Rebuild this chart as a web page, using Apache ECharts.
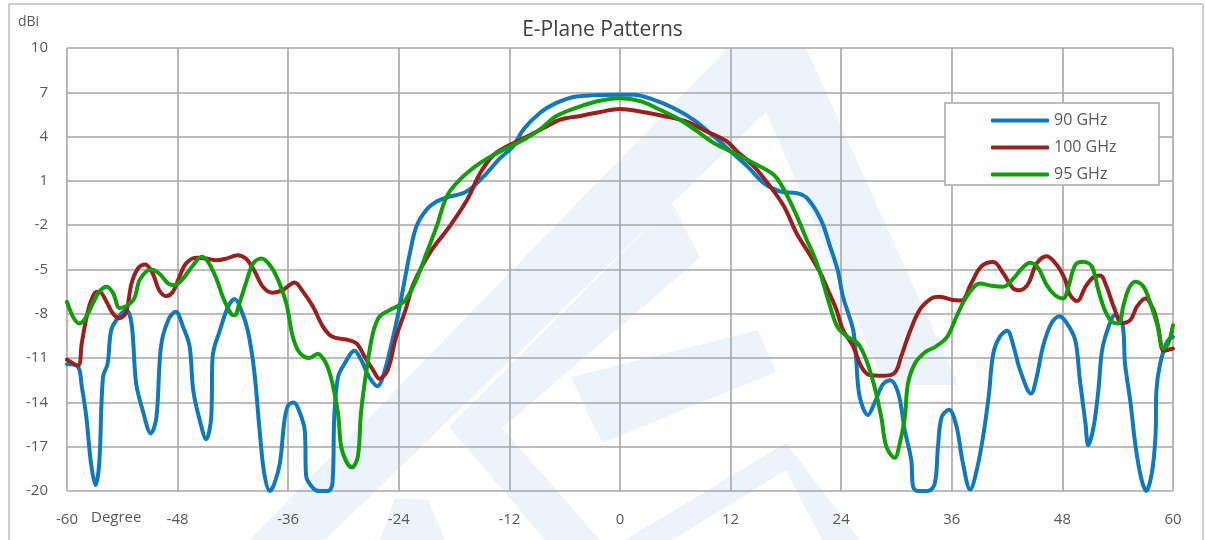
<!DOCTYPE html>
<html>
<head>
<meta charset="utf-8">
<script src="https://cdn.jsdelivr.net/npm/echarts@6/dist/echarts.min.js"></script>
<style>
html,body{margin:0;padding:0;background:#fff;}
#chart{width:1205px;height:540px;}
</style>
</head>
<body>
<div id="chart"></div>
<script>
const chartTitle = 'E-Plane Patterns';
const seriesNames = ['90 GHz', '100 GHz', '95 GHz'];
const xTicks = [-60, -48, -36, -24, -12, 0, 12, 24, 36, 48, 60];
const yTicks = [-20, -17, -14, -11, -8, -5, -2, 1, 4, 7, 10];

const ghz90 = [[-60,-11.4],[-58.8,-11.6],[-58.4,-12.9],[-57.9,-15],[-57.4,-18.1],[-56.9,-19.6],[-56.5,-18.1],[-56.1,-12.3],[-55.6,-11.4],[-55.2,-9.1],[-54.5,-8.3],[-53.6,-7.75],[-53,-8.65],[-52.5,-12.7],[-51.8,-14.5],[-50.9,-16.1],[-50.3,-15],[-49.8,-10.2],[-49,-8.4],[-48.2,-7.86],[-47.4,-8.9],[-46.7,-10.2],[-46.3,-13.2],[-45.6,-15.2],[-44.9,-16.5],[-44.35,-15],[-44.2,-10.9],[-43.4,-9.1],[-42.5,-7.5],[-41.8,-7.0],[-41.1,-7.75],[-40.4,-9.1],[-39.7,-11.8],[-39.1,-15.9],[-38.6,-18.8],[-38.0,-20],[-37.5,-19.5],[-36.9,-18.1],[-36.4,-15.2],[-36.0,-14.2],[-35.4,-14.0],[-34.8,-14.6],[-34.2,-15.9],[-34.05,-19.0],[-33.3,-19.8],[-32.6,-20],[-31.7,-20],[-31.2,-19.5],[-31.0,-15],[-30.6,-12.3],[-29.9,-11.4],[-28.8,-10.5],[-28.1,-11.1],[-27.2,-12.3],[-26.3,-12.9],[-25.6,-12.0],[-24.7,-9.8],[-23.9,-7.5],[-23.3,-5.5],[-22.8,-3.9],[-22.1,-2.1],[-21.0,-0.96],[-19.9,-0.4],[-18.5,-0.06],[-17.0,0.17],[-15.9,0.62],[-14.5,1.5],[-13.0,2.54],[-11.6,3.33],[-10.5,4.47],[-8.7,5.6],[-6.9,6.28],[-5.05,6.68],[-2.9,6.8],[0,6.84],[1.5,6.84],[3.6,6.5],[5.8,5.94],[8.0,5.14],[10.2,4.0],[12.0,3.0],[13.8,2.0],[15.6,0.85],[17.4,0.28],[19.2,0.17],[20.3,-0.17],[21.8,-1.64],[22.8,-3.45],[23.6,-5.0],[24.2,-6.85],[25.3,-9.1],[25.6,-10.9],[26.0,-13.6],[26.9,-14.86],[27.6,-14.07],[28.5,-12.8],[29.3,-12.5],[30.2,-13.4],[30.9,-15.9],[31.6,-17.9],[31.8,-19.7],[32.3,-20],[33.4,-20],[34.15,-19.5],[34.5,-17.0],[34.9,-15.0],[35.7,-14.5],[36.5,-15.6],[37.2,-18.1],[38.0,-19.9],[38.7,-18.6],[39.4,-16.3],[40.0,-13.6],[40.5,-10.7],[41.2,-9.56],[42.0,-9.15],[42.7,-10.2],[43.4,-11.8],[44.6,-13.4],[45.2,-12.3],[45.9,-10.2],[46.8,-8.65],[47.7,-8.16],[48.5,-8.65],[49.4,-9.8],[49.9,-12.5],[50.5,-15.4],[50.8,-16.9],[51.4,-15.6],[51.9,-13.2],[52.3,-10.5],[53.0,-8.9],[53.7,-8.1],[54.5,-8.65],[54.8,-11.4],[55.4,-14.07],[55.9,-16.8],[56.5,-19.0],[57.1,-20],[57.7,-18.8],[58.1,-16.3],[58.2,-13.2],[58.6,-11.4],[59.35,-9.9],[60,-9.56]];

const ghz100 = [[-60,-11.1],[-58.8,-11.5],[-58.4,-10.0],[-57.7,-7.75],[-57.0,-6.6],[-56.5,-6.5],[-55.7,-7.2],[-55.0,-8.0],[-54.3,-8.3],[-53.6,-7.9],[-53.0,-5.95],[-52.3,-4.93],[-51.5,-4.66],[-50.7,-5.27],[-50.0,-6.4],[-49.2,-6.8],[-48.5,-6.5],[-47.8,-5.5],[-47.1,-4.6],[-46.0,-4.2],[-44.9,-4.26],[-43.8,-4.37],[-42.7,-4.26],[-41.5,-4.03],[-40.6,-4.26],[-39.7,-5.05],[-38.75,-6.17],[-37.7,-6.58],[-36.6,-6.4],[-35.3,-5.88],[-34.4,-6.5],[-33.3,-7.53],[-32.2,-8.9],[-31.2,-9.56],[-29.7,-9.74],[-28.6,-10.0],[-27.7,-10.9],[-26.8,-11.8],[-26.1,-12.4],[-25.2,-11.8],[-24.3,-9.6],[-23.2,-7.6],[-22.4,-5.95],[-20.5,-3.75],[-18.5,-2.1],[-16.6,-0.3],[-15.2,1.5],[-13.7,2.77],[-12.3,3.33],[-10.1,4.0],[-8.3,4.58],[-6.5,5.14],[-4.3,5.4],[-2.15,5.67],[0,5.87],[2.2,5.7],[4.7,5.4],[7.3,5.0],[9.4,4.35],[11.6,3.67],[12.7,3.0],[14.5,2.0],[16.3,0.62],[17.8,-0.74],[19.2,-2.6],[20.7,-4.1],[21.8,-5.3],[22.5,-6.3],[23.5,-7.75],[24.2,-9.1],[25.3,-10.2],[26.2,-11.6],[27.1,-12.15],[28.5,-12.2],[29.8,-12.0],[30.5,-10.9],[31.4,-9.3],[32.5,-7.75],[33.8,-6.96],[34.7,-6.85],[36.1,-7.07],[37.05,-7.1],[38.1,-5.95],[39.2,-4.8],[40.5,-4.5],[41.6,-5.27],[42.7,-6.3],[43.4,-6.4],[44.3,-5.95],[45.2,-4.6],[46.3,-4.1],[47.4,-4.7],[48.3,-5.7],[48.8,-6.7],[49.6,-7.14],[50.5,-6.17],[51.4,-5.5],[52.1,-5.4],[52.8,-6.17],[53.55,-7.5],[54.5,-8.65],[55.4,-8.4],[56.1,-7.5],[57.0,-6.96],[57.9,-7.75],[58.4,-8.9],[59.0,-10.5],[60,-10.35]];

const ghz95 = [[-60,-7.2],[-59.35,-8.2],[-58.7,-8.65],[-58.1,-8.4],[-57.2,-7.3],[-56.5,-6.5],[-55.7,-6.17],[-55.0,-6.6],[-54.3,-7.6],[-53.6,-7.5],[-52.7,-6.96],[-52.1,-5.7],[-50.9,-5.0],[-50.0,-5.27],[-49.0,-5.95],[-48.3,-6.06],[-47.4,-5.6],[-46.3,-4.7],[-45.4,-4.14],[-44.7,-4.48],[-43.8,-5.6],[-43.1,-6.85],[-42.2,-8.0],[-41.8,-8.1],[-41.3,-7.3],[-40.6,-5.95],[-39.8,-4.6],[-38.9,-4.26],[-38.0,-4.7],[-37.1,-5.7],[-36.2,-7.3],[-35.5,-9.56],[-34.8,-10.6],[-33.7,-11.0],[-32.8,-10.7],[-31.9,-11.36],[-31.2,-12.7],[-30.6,-14.7],[-30.25,-17.0],[-29.7,-18.0],[-29.1,-18.4],[-28.45,-17.7],[-28.1,-14.7],[-27.5,-11.8],[-26.8,-9.3],[-26.1,-8.2],[-25.0,-7.75],[-23.9,-7.4],[-23.2,-7.0],[-22.1,-5.7],[-21.0,-3.9],[-19.9,-2.1],[-18.8,-0.06],[-17.4,1.07],[-15.2,2.2],[-13.0,3.0],[-10.8,3.67],[-8.7,4.47],[-6.9,5.4],[-4.3,6.05],[-2.2,6.43],[0,6.6],[2.2,6.4],[4.4,5.8],[6.5,5.14],[8.4,4.35],[10.2,3.56],[12.3,2.9],[14.5,2.2],[16.7,1.4],[17.8,0.4],[19.2,-1.4],[20.2,-2.9],[21.0,-4.0],[21.8,-5.4],[22.7,-7.3],[23.6,-8.9],[24.7,-9.56],[25.8,-10.0],[26.7,-11.1],[27.6,-12.9],[28.35,-15.0],[28.9,-17.0],[29.8,-17.75],[30.35,-16.8],[30.9,-15.0],[31.25,-12.7],[32.0,-11.36],[33.1,-10.6],[34.3,-10.2],[35.5,-9.56],[36.5,-8.2],[37.6,-6.85],[39.05,-5.95],[40.3,-6.1],[41.6,-6.17],[42.7,-5.6],[43.6,-4.93],[44.5,-4.55],[45.4,-4.93],[46.3,-6.06],[47.2,-6.74],[48.1,-6.96],[48.65,-6.17],[49.4,-4.7],[50.3,-4.48],[51.2,-4.8],[51.9,-6.4],[52.6,-7.75],[53.4,-8.55],[54.1,-8.65],[54.6,-7.5],[55.2,-6.3],[55.9,-5.83],[56.8,-6.17],[57.5,-7.2],[58.25,-8.65],[59.0,-10.35],[59.5,-10.0],[60,-8.77]];

const seriesData = [ghz90, ghz100, ghz95];
const seriesColors = ['#0f79c0', '#9a1f1f', '#109e0a'];

const FONT = '"Open Sans", "Noto Sans", sans-serif';
const chart = echarts.init(document.getElementById('chart'), null, {renderer: 'canvas'});
const wm = '#edf3fa';
const wmShapes = [
  [[250,540],[325,540],[766,112],[885,385],[958,385],[806,48],[728,48]],
  [[449,427],[672,203],[700,258],[502,428],[600,540],[545,540]],
  [[571,377],[602,443],[776,372],[758,330]],
  [[625,540],[672,540],[786,470],[822,540],[860,540],[786,443]],
  [[380,540],[445,540],[428,500],[395,498]]
];

chart.setOption({
  animation: false,
  textStyle: {fontFamily: FONT},
  title: {
    text: chartTitle, left: 'center', top: 15,
    textStyle: {fontFamily: FONT, fontSize: 21, fontWeight: 'normal', color: '#404040'}
  },
  grid: {left: 67, right: 32, top: 48, bottom: 49, containLabel: false},
  legend: {
    orient: 'vertical', left: 986, top: 106, z: 10,
    icon: 'roundRect', itemWidth: 58, itemHeight: 4, itemGap: 8,
    textStyle: {fontFamily: FONT, fontSize: 16, color: '#595959', lineHeight: 19},
    data: seriesNames
  },
  xAxis: {
    type: 'value', min: -60, max: 60, interval: 12,
    axisLine: {show: false}, axisTick: {show: false},
    axisLabel: {
      margin: 21, fontSize: 15, color: '#595959', fontFamily: FONT,
      formatter: v => xTicks.includes(v) ? String(v) : ''
    },
    splitLine: {show: true, lineStyle: {color: '#a6a6a6', width: 1.6}}
  },
  yAxis: {
    type: 'value', min: -20, max: 10, interval: 3,
    axisLine: {show: false}, axisTick: {show: false},
    axisLabel: {
      margin: 19, fontSize: 15, color: '#595959', fontFamily: FONT,
      formatter: v => yTicks.includes(v) ? String(v) : ''
    },
    splitLine: {show: true, lineStyle: {color: '#a6a6a6', width: 1.6}}
  },
  graphic: wmShapes.map(p => ({type: 'polygon', z: -10, shape: {points: p}, style: {fill: wm}})).concat([
    {type: 'rect', z: -5, shape: {x: 9, y: 4, width: 1194, height: 560}, style: {fill: 'none', stroke: '#bfbfbf', lineWidth: 1.5}},
    {type: 'rect', z: 1, shape: {x: 945, y: 103, width: 214, height: 82}, style: {fill: '#ffffff', stroke: '#a6a6a6', lineWidth: 1.5}},
    {type: 'text', z: 5, left: 18, top: 15, style: {text: 'dBi', fontFamily: FONT, fontSize: 14, fill: '#595959'}},
    {type: 'text', z: 5, left: 91, top: 510, style: {text: 'Degree', fontFamily: FONT, fontSize: 15, fill: '#595959'}}
  ]),
  series: seriesNames.map((name, i) => ({
    name: name, type: 'line', data: seriesData[i],
    smooth: 0.35, showSymbol: false, symbol: 'none',
    clip: true, z: 3,
    lineStyle: {color: seriesColors[i], width: 4, cap: 'round', join: 'round'},
    itemStyle: {color: seriesColors[i]}
  }))
});
</script>
</body>
</html>
